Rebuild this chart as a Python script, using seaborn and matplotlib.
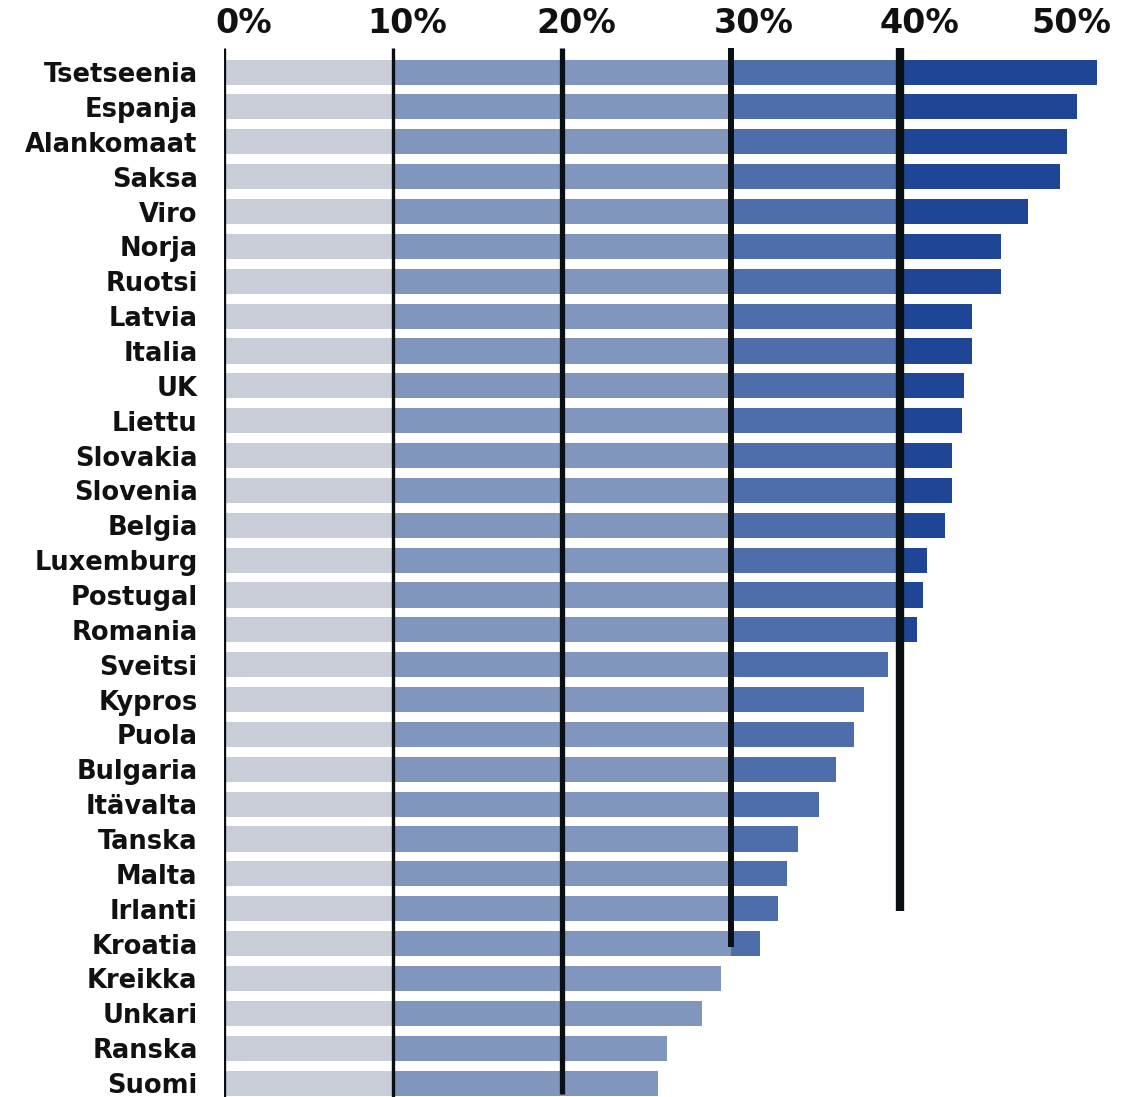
import matplotlib
matplotlib.use("Agg")
import matplotlib.pyplot as plt
import seaborn as sns
import pandas as pd
from matplotlib.transforms import ScaledTranslation

countries = ["Tsetseenia", "Espanja", "Alankomaat", "Saksa", "Viro", "Norja", "Ruotsi",
             "Latvia", "Italia", "UK", "Liettu", "Slovakia", "Slovenia", "Belgia",
             "Luxemburg", "Postugal", "Romania", "Sveitsi", "Kypros", "Puola", "Bulgaria",
             "Itävalta", "Tanska", "Malta", "Irlanti", "Kroatia", "Kreikka", "Unkari",
             "Ranska", "Suomi"]
values = [51.7, 50.5, 49.9, 49.5, 47.6, 46.0, 46.0, 44.3, 44.3, 43.8, 43.7, 43.1, 43.1,
          42.7, 41.6, 41.4, 41.0, 39.3, 37.9, 37.3, 36.2, 35.2, 34.0, 33.3, 32.8, 31.7,
          29.4, 28.3, 26.2, 25.7]
tick_values = [0, 10, 20, 30, 40, 50]
tick_labels = ["0%", "10%", "20%", "30%", "40%", "50%"]

sns.set_theme(style="white")
plt.rcParams["font.family"] = ["DejaVu Sans"]

W, H = 1130, 1097
fig = plt.figure(figsize=(W / 100, H / 100), dpi=100)
ax = fig.add_axes([224 / W, 0, (1111 - 224) / W, (H - 48) / H])

df = pd.DataFrame({"country": countries, "value": values})
layers = [(None, "#1f4696"), (40, "#4d6dab"), (30, "#8096bf"), (10, "#c8cdd7")]
for cap, color in layers:
    d = df.copy()
    if cap is not None:
        d["value"] = d["value"].clip(upper=cap)
    sns.barplot(data=d, y="country", x="value", order=countries, color=color,
                saturation=1, width=0.72, ax=ax, linewidth=0)

ax.set_xlim(0, 52.5)
ax.set_ylim(29.4, -0.69)

line_color = "#0a0f14"
ax.vlines(0, -0.69, 29.4, color=line_color, lw=2.4)
ax.vlines(10, -0.69, 29.4, color=line_color, lw=2.4)
ax.vlines(20, -0.69, 29.3, color=line_color, lw=3.8)
ax.vlines(30, -0.69, 25.1, color=line_color, lw=4.3)
ax.vlines(40, -0.69, 24.07, color=line_color, lw=6)

for s in ax.spines.values():
    s.set_visible(False)
ax.set_xlabel("")
ax.set_ylabel("")
ax.xaxis.tick_top()
ax.set_xticks(tick_values)
ax.set_xticklabels(tick_labels, fontsize=24, fontweight="bold", color="#111111")
ax.tick_params(axis="x", length=0, pad=6)
offsets = [20, 14, 14, 23, 20, 3]
for lab, dx in zip(ax.get_xticklabels(), offsets):
    lab.set_transform(lab.get_transform() + ScaledTranslation(dx / 100, 0, fig.dpi_scale_trans))

ax.tick_params(axis="y", length=0, pad=19)
for lab in ax.get_yticklabels():
    lab.set_fontsize(18.5)
    lab.set_fontweight("bold")
    lab.set_color("#111111")

fig.savefig("out.png", dpi=100)
